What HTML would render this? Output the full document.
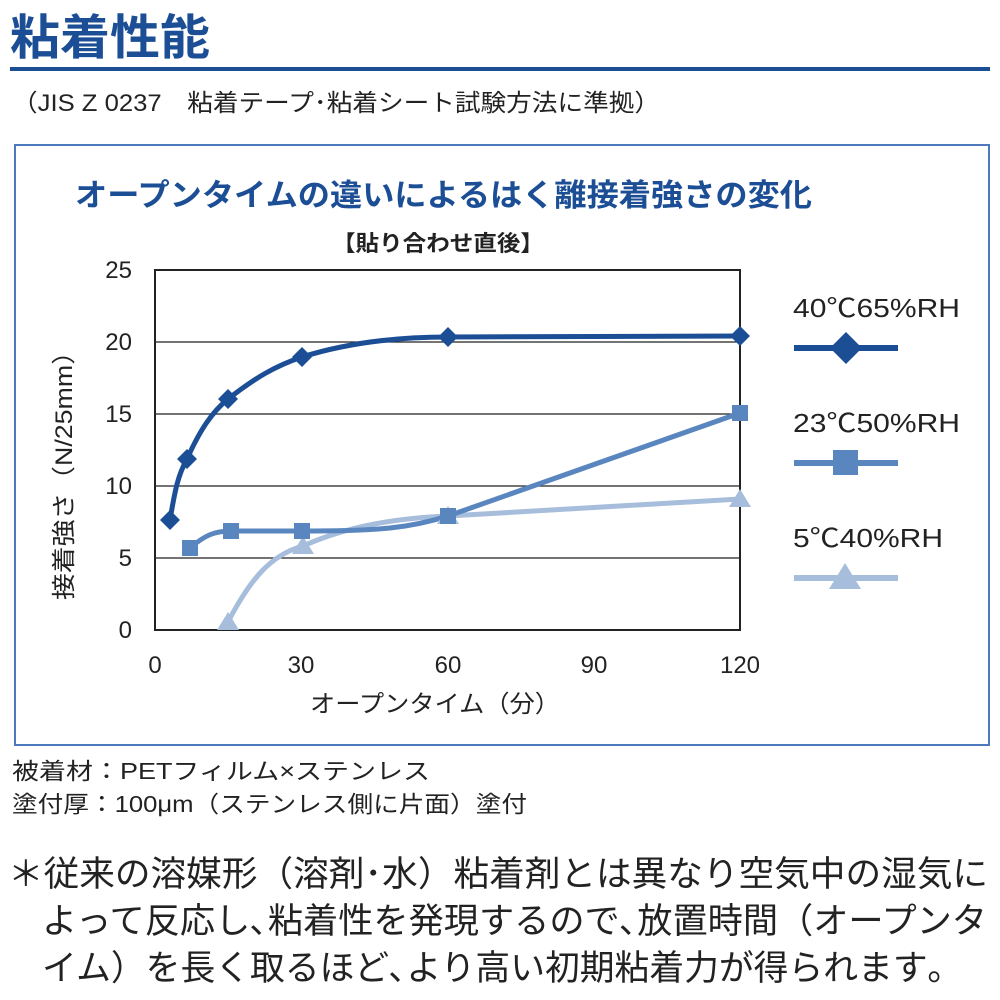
<!DOCTYPE html>
<html><head><meta charset="utf-8"><style>
html,body{margin:0;padding:0;background:#fff;}
svg{display:block;font-family:"Liberation Sans","Noto Sans CJK JP",sans-serif;}
</style></head><body>
<svg width="1000" height="1000" viewBox="0 0 1000 1000">
<text x="10" y="54" font-size="48" font-weight="bold" fill="#1c4e96" font-family="'Noto Sans CJK JP',sans-serif" textLength="200" lengthAdjust="spacingAndGlyphs">粘着性能</text>
<rect x="10" y="67" width="980" height="4" fill="#1c4e96"/>
<text x="12" y="111" font-size="24" fill="#222" textLength="648" lengthAdjust="spacingAndGlyphs">（JIS Z 0237　粘着テープ･粘着シート試験方法に準拠）</text>
<rect x="15" y="145" width="974" height="600" fill="none" stroke="#4f79bd" stroke-width="2"/>
<text x="75" y="206" font-size="31" font-weight="bold" fill="#1c4e96" textLength="737" lengthAdjust="spacingAndGlyphs">オープンタイムの違いによるはく離接着強さの変化</text>
<text x="332" y="251" font-size="22" font-weight="bold" fill="#222" textLength="212" lengthAdjust="spacingAndGlyphs">【貼り合わせ直後】</text>
<g stroke="#222" stroke-width="1.3">
<line x1="155" y1="342" x2="740" y2="342"/><line x1="155" y1="414" x2="740" y2="414"/>
<line x1="155" y1="486" x2="740" y2="486"/><line x1="155" y1="558" x2="740" y2="558"/>
<rect x="155" y="270" width="585" height="360" fill="none" stroke-width="2"/>
</g>
<g font-size="24" fill="#222" text-anchor="end">
<text x="132" y="278">25</text><text x="132" y="350">20</text><text x="132" y="422">15</text><text x="132" y="494">10</text><text x="132" y="566">5</text><text x="132" y="638">0</text>
</g>
<g font-size="24" fill="#222" text-anchor="middle">
<text x="155" y="673">0</text><text x="301" y="673">30</text><text x="448" y="673">60</text><text x="594" y="673">90</text><text x="740" y="673">120</text>
</g>
<text x="310" y="712" font-size="24" fill="#222" textLength="250" lengthAdjust="spacingAndGlyphs">オープンタイム（分）</text>
<text transform="translate(72,600) rotate(-90)" font-size="24" fill="#222" textLength="262" lengthAdjust="spacingAndGlyphs">接着強さ（N/25mm）</text>
<path d="M228,622 C250,580 270,555 303,546 C350,525 400,518 448,516 L740,499" fill="none" stroke="#a7bddc" stroke-width="5"/>
<path d="M190,548 C205,535 215,531 231,531 L302,531 C380,531 410,528 448,516 L740,413" fill="none" stroke="#5a86c0" stroke-width="5"/>
<path d="M170,520 C175,490 178,475 187,459 C200,430 212,412 228,399 C255,378 275,366 302,357 C350,342 400,337 448,337 L740,336" fill="none" stroke="#1c4e96" stroke-width="5"/>
<g fill="#a7bddc"><polygon points="228,612 239,630 217,630"/><polygon points="303,536 314,554 292,554"/><polygon points="448,506 459,524 437,524"/><polygon points="740,489 751,507 729,507"/></g>
<g fill="#5a86c0"><rect x="182" y="540" width="16" height="16"/><rect x="223" y="523" width="16" height="16"/><rect x="294" y="523" width="16" height="16"/><rect x="440" y="508" width="16" height="16"/><rect x="732" y="405" width="16" height="16"/></g>
<g fill="#1c4e96">
<polygon points="170,510 180,520 170,530 160,520"/><polygon points="187,449 197,459 187,469 177,459"/><polygon points="228,389 238,399 228,409 218,399"/><polygon points="302,347 312,357 302,367 292,357"/><polygon points="448,327 458,337 448,347 438,337"/><polygon points="740,326 750,336 740,346 730,336"/>
</g>
<g font-size="26" fill="#222">
<text x="793" y="317" textLength="167" lengthAdjust="spacingAndGlyphs">40℃65%RH</text><text x="793" y="432" textLength="167" lengthAdjust="spacingAndGlyphs">23℃50%RH</text><text x="793" y="547" textLength="150" lengthAdjust="spacingAndGlyphs">5℃40%RH</text>
</g>
<rect x="794" y="345" width="104" height="6" fill="#1c4e96"/><polygon points="846,332 862,348 846,364 830,348" fill="#1c4e96"/>
<rect x="794" y="460" width="104" height="6" fill="#5a86c0"/><rect x="833" y="450" width="25" height="25" fill="#5a86c0"/>
<rect x="794" y="575" width="104" height="6" fill="#a7bddc"/><polygon points="845,563 861,589 829,589" fill="#a7bddc"/>
<g font-size="23" fill="#222">
<text x="12" y="779" textLength="418" lengthAdjust="spacingAndGlyphs">被着材：PETフィルム×ステンレス</text>
<text x="12" y="812" textLength="515" lengthAdjust="spacingAndGlyphs">塗付厚：100μm（ステンレス側に片面）塗付</text>
</g>
<g font-size="35" fill="#222">
<text x="8" y="886" textLength="980" lengthAdjust="spacingAndGlyphs">＊従来の溶媒形（溶剤･水）粘着剤とは異なり空気中の湿気に</text>
<text x="42" y="933" textLength="945" lengthAdjust="spacingAndGlyphs">よって反応し､粘着性を発現するので､放置時間（オープンタ</text>
<text x="42" y="980" textLength="903" lengthAdjust="spacingAndGlyphs">イム）を長く取るほど､より高い初期粘着力が得られます｡</text>
</g>
</svg>
</body></html>
